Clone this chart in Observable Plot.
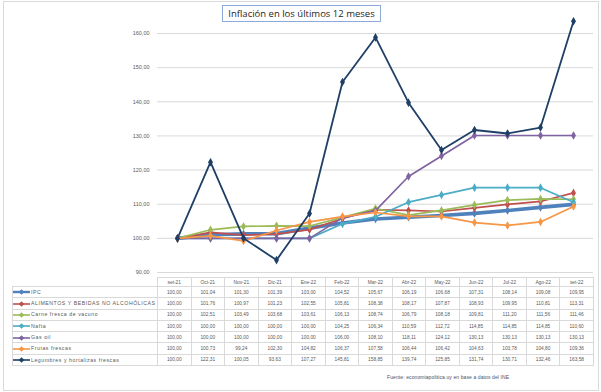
<!DOCTYPE html>
<html><head><meta charset="utf-8">
<script src="https://cdn.jsdelivr.net/npm/d3@7"></script>
<script src="https://cdn.jsdelivr.net/npm/@observablehq/plot@0.6"></script>
<style>
body{margin:0;background:#fff;font-family:"Liberation Sans",Arial,sans-serif;}
#wrap{position:relative;width:601px;height:392px;overflow:hidden;background:#fff;}
#frame{position:absolute;left:3px;top:1px;width:596px;height:390px;border:1px solid #d9d9d9;box-sizing:border-box;}
#chart{position:absolute;left:0;top:0;}
#title{position:absolute;top:5px;left:222px;width:159px;height:17px;box-sizing:border-box;border:1px solid #8eaadb;background:#fff;
  font-family:"Open Sans",sans-serif;font-size:9.5px;color:#262626;text-align:center;line-height:15px;white-space:nowrap;}
#tbl{position:absolute;left:12px;top:277px;border-collapse:collapse;table-layout:fixed;font-size:4.8px;color:#595959;}
#tbl td{border:1px solid #d9d9d9;padding:0;text-align:center;white-space:nowrap;overflow:hidden;}
#tbl td.lab{text-align:left;letter-spacing:0.55px;font-size:5.2px;}
#tbl tr.hd td{height:8px;}
#tbl tr.rw td{height:10.3px;}
#tbl td.blank{border:none;}
#tbl svg{vertical-align:middle;margin-right:1px;}
#foot{position:absolute;left:387px;top:374px;font-size:5px;color:#44546a;white-space:nowrap;letter-spacing:0.1px;}
</style></head>
<body><div id="wrap"><div id="frame"></div><div id="chart"></div><div id="title">Inflación en los últimos 12 meses</div><table id="tbl"></table><div id="foot">Fuente: economiapolitica.uy en base a datos del INE</div></div>
<script>
const months = ["set-21","Oct-21","Nov-21","Dic-21","Ene-22","Feb-22","Mar-22","Abr-22","May-22","Jun-22","Jul-22","Ago-22","set-22"];
const seriesNames = ["IPC","ALIMENTOS Y BEBIDAS NO ALCOHÓLICAS","Carne fresca de vacuno","Nafta","Gas oil","Frutas frescas","Legumbres y hortalizas frescas"];
const ipc        = [100.00,101.04,101.30,101.39,103.00,104.52,105.67,106.19,106.68,107.31,108.14,109.08,109.95];
const alimentos  = [100.00,101.76,100.97,101.23,102.55,105.81,108.38,108.17,107.87,108.93,109.95,110.81,113.31];
const carne      = [100.00,102.51,103.49,103.68,103.61,106.13,108.74,106.79,108.18,109.81,111.20,111.56,111.46];
const nafta      = [100.00,100.00,100.00,100.00,100.00,104.25,106.34,110.59,112.72,114.85,114.85,114.85,110.60];
const gasoil     = [100.00,100.00,100.00,100.00,100.00,106.00,108.10,118.11,124.12,130.13,130.13,130.13,130.13];
const frutas     = [100.00,100.73,99.24,102.30,104.82,106.37,107.58,106.44,106.42,104.63,103.78,104.80,109.36];
const legumbres  = [100.00,122.31,100.05,93.63,107.27,145.81,158.85,139.74,125.85,131.74,130.71,132.46,163.58];
const yTicks = [90,100,110,120,130,140,150,160];

const allValues = [ipc, alimentos, carne, nafta, gasoil, frutas, legumbres];
const colors = ["#4f81bd","#c0504d","#9bbb59","#4bacc6","#8064a2","#f79646","#1f3f66"];
const widths = [3.6,1.7,1.7,1.7,1.7,1.7,1.8];

const fmt = v => v.toFixed(2).replace(".", ",");
const rows = [];
allValues.forEach((vals, s) => vals.forEach((v, i) => rows.push({serie: seriesNames[s], s, month: months[i], value: v})));

const marks = [Plot.ruleY(yTicks, {stroke: "#d9d9d9", strokeWidth: 1})];
seriesNames.forEach((name, s) => {
  const d = rows.filter(r => r.s === s);
  marks.push(Plot.line(d, {x: "month", y: "value", stroke: colors[s], strokeWidth: widths[s], strokeLinejoin: "round"}));
  marks.push(Plot.dot(d, {x: "month", y: "value", fill: colors[s], stroke: colors[s], r: 1.7, symbol: "diamond"}));
});

const chart = Plot.plot({
  width: 601, height: 278,
  marginLeft: 157, marginRight: 8, marginTop: 33, marginBottom: 6,
  style: {fontSize: "5.5px", color: "#595959", fontFamily: "Liberation Sans, Arial, sans-serif", background: "transparent"},
  x: {type: "point", domain: months, padding: 0.5, axis: null},
  y: {domain: [90, 160], ticks: yTicks, tickFormat: fmt, tickSize: 0, tickPadding: 8, label: null},
  marks
});
document.getElementById("chart").appendChild(chart);

// data table
const tbl = document.getElementById("tbl");
const colW = 436 / 13;
let html = `<colgroup><col style="width:145px">${months.map(() => `<col style="width:${colW}px">`).join("")}</colgroup>`;
html += `<tr class="hd"><td class="blank"></td>${months.map(m => `<td>${m}</td>`).join("")}</tr>`;
seriesNames.forEach((name, s) => {
  const sw = `<svg width="17" height="6"><line x1="0" y1="3" x2="17" y2="3" stroke="${colors[s]}" stroke-width="${s===0?2.4:1.6}"/><rect x="6.5" y="1" width="4" height="4" fill="${colors[s]}" transform="rotate(45 8.5 3)"/></svg>`;
  html += `<tr class="rw"><td class="lab">${sw}${name}</td>${allValues[s].map(v => `<td>${fmt(v)}</td>`).join("")}</tr>`;
});
tbl.innerHTML = html;
</script></body></html>
